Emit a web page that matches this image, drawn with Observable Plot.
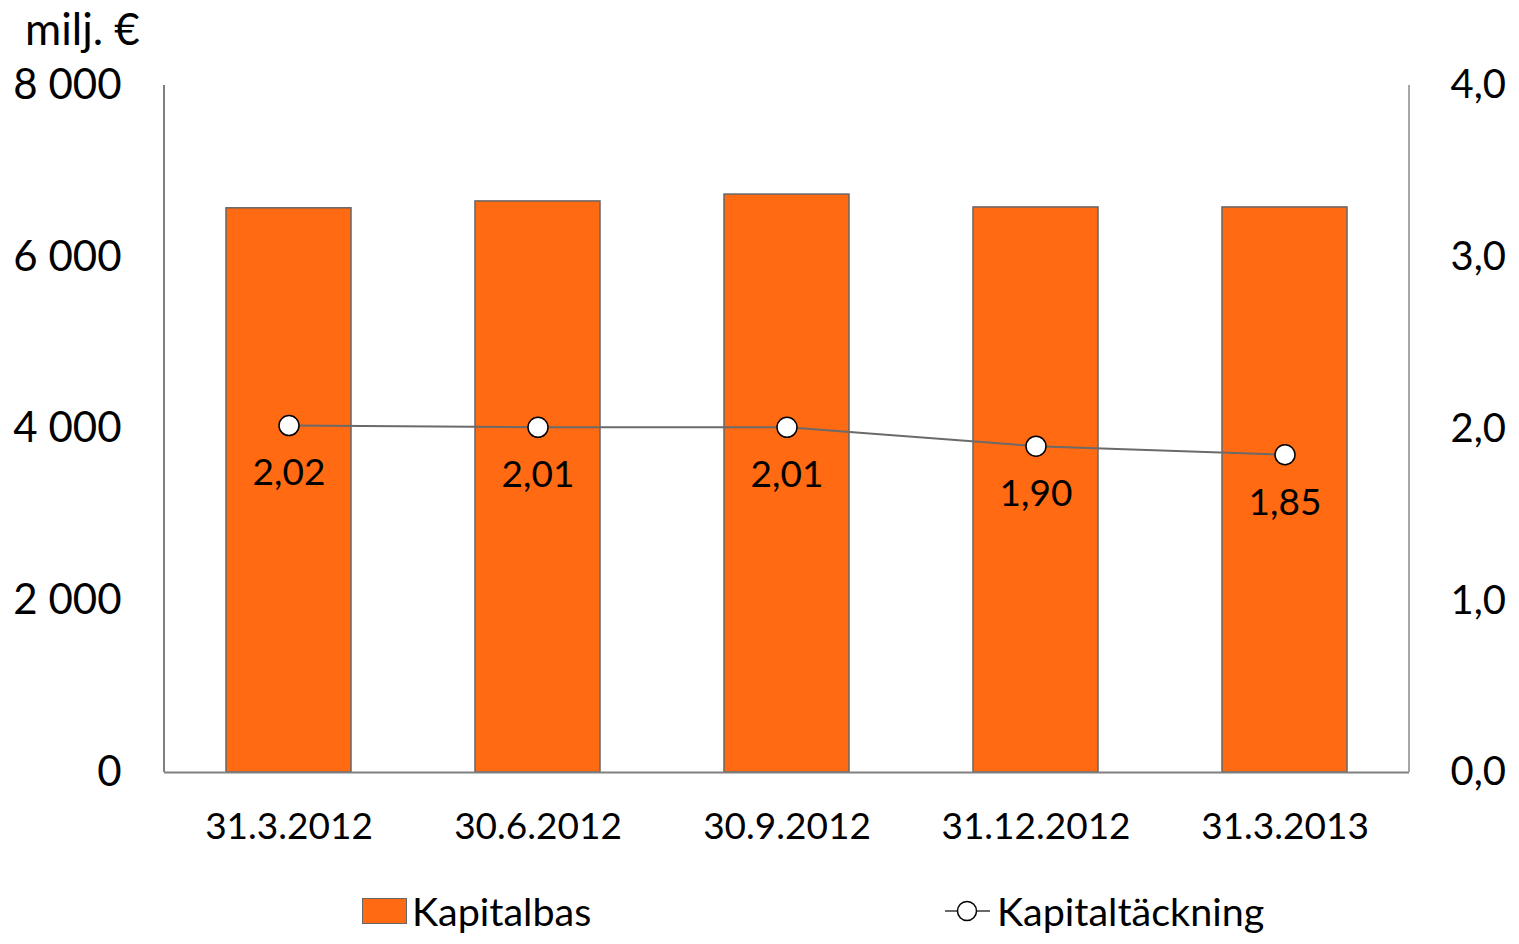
<!DOCTYPE html>
<html><head><meta charset="utf-8">
<script src="https://cdn.jsdelivr.net/npm/d3@7"></script>
<script src="https://cdn.jsdelivr.net/npm/@observablehq/plot@0.6"></script>
<style>
body{margin:0;background:#fff;font-family:Lato,"Open Sans",sans-serif;}
#wrap{position:relative;width:1519px;height:944px;}
#unit{position:absolute;left:25px;top:2px;font-size:44px;color:#000;}
#legend{position:absolute;left:0;top:870px;width:1519px;height:74px;}
.lg{position:absolute;top:19px;font-size:39.5px;line-height:44px;color:#000;display:flex;align-items:center;}
</style></head>
<body><div id="wrap"><div id="chart"></div><div id="unit">milj. €</div>
<div id="legend">
<div class="lg" style="left:362px"><span style="display:inline-block;width:45px;height:26px;background:#FF6A13;border:1px solid #666;box-sizing:border-box;margin-right:5px"></span>Kapitalbas</div>
<div class="lg" style="left:945px"><svg width="48" height="30" style="margin-right:4px"><line x1="0" y1="15" x2="45" y2="15" stroke="#6a6a6a" stroke-width="2"/><circle cx="22" cy="15" r="9.5" fill="#fff" stroke="#000" stroke-width="1.5"/></svg>Kapitaltäckning</div>
</div></div>
<script>
const dates = ["31.3.2012","30.6.2012","30.9.2012","31.12.2012","31.3.2013"];
const kapitalbas = [6570, 6650, 6730, 6580, 6580];
const kapitaltackning = [2.02, 2.01, 2.01, 1.90, 1.85];
const leftTicks = [0, 2000, 4000, 6000, 8000];
const rightTicks = [0, 1, 2, 3, 4];

const ratio = 2000;
const data = dates.map((d, i) => ({date: d, bas: kapitalbas[i], tack: kapitaltackning[i]}));
const fmtThousands = d => d3.format(",")(d).replace(/,/g, " ");
const fmtComma = (d, n) => d.toFixed(n).replace(".", ",");

const W = 1519, H = 870, mL = 164, mR = 110, mT = 85, mB = 98;
const chart = Plot.plot({
  width: W, height: H,
  marginLeft: mL, marginRight: mR, marginTop: mT, marginBottom: mB,
  style: {fontFamily: "Lato, 'Open Sans', sans-serif", color: "#000", background: "#fff"},
  x: {domain: dates, paddingInner: 0.5, paddingOuter: 0.25, label: null},
  y: {domain: [0, 8000], label: null},
  marks: [
    Plot.barY(data, {x: "date", y: "bas", fill: "#FF6A13", stroke: "#666", strokeWidth: 1.5}),
    Plot.ruleY([0], {stroke: "#808080", strokeWidth: 2}),
    Plot.axisX({tickSize: 0, tickPadding: 40, fontSize: 37, label: null}),
    Plot.axisY(leftTicks, {anchor: "left", tickSize: 0, tickPadding: 43, fontSize: 42, tickFormat: fmtThousands, label: null}),
    Plot.axisY(rightTicks.map(d => d * ratio), {anchor: "right", tickSize: 0, tickPadding: 41, fontSize: 40, tickFormat: d => fmtComma(d / ratio, 1), label: null}),
    Plot.line(data, {x: "date", y: d => d.tack * ratio, stroke: "#6a6a6a", strokeWidth: 2}),
    Plot.dot(data, {x: "date", y: d => d.tack * ratio, r: 10, fill: "#fff", stroke: "#000", strokeWidth: 1.5}),
    Plot.text(data, {x: "date", y: d => d.tack * ratio, text: d => fmtComma(d.tack, 2), dy: 48, fontSize: 37, fill: "#000"})
  ]
});
document.getElementById("chart").appendChild(chart);
const svg = d3.select(chart);
const y = chart.scale("y");
svg.append("line").attr("x1", mL).attr("x2", mL).attr("y1", y.apply(8000)).attr("y2", y.apply(0)).attr("stroke", "#808080").attr("stroke-width", 2);
svg.append("line").attr("x1", W - mR).attr("x2", W - mR).attr("y1", y.apply(8000)).attr("y2", y.apply(0)).attr("stroke", "#a6a6a6").attr("stroke-width", 2);
</script></body></html>
